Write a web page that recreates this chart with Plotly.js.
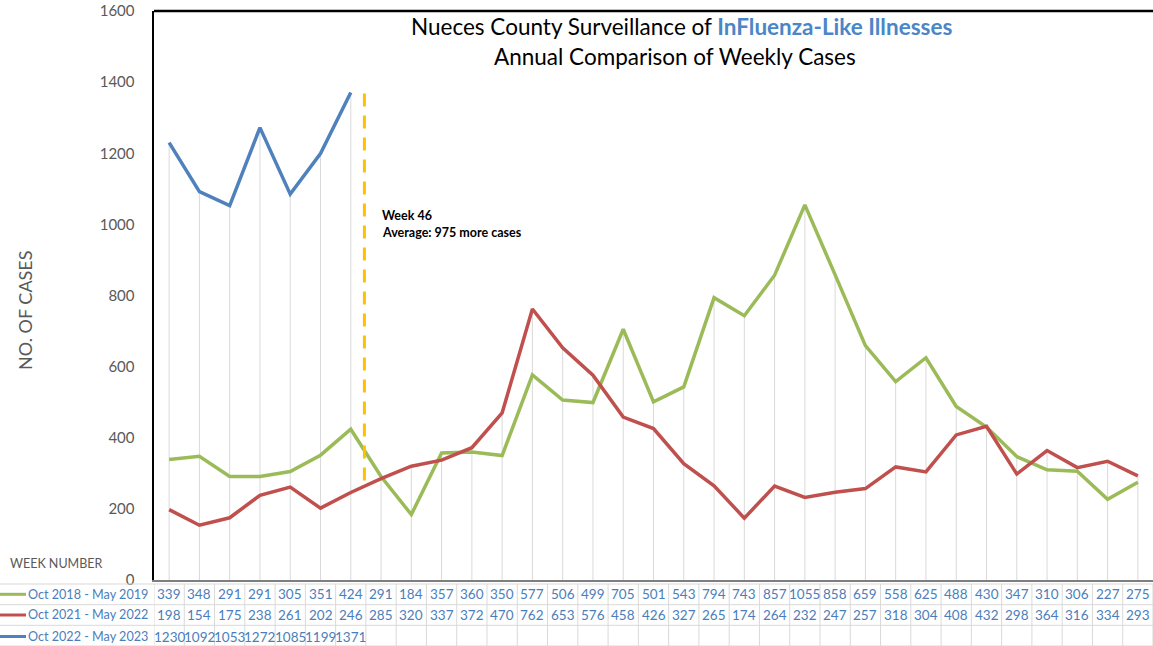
<!DOCTYPE html>
<html><head><meta charset="utf-8">
<script src="https://cdn.plot.ly/plotly-3.0.1.min.js"></script>
<style>html,body{margin:0;padding:0;background:#fff}#chart{width:1153px;height:646px}</style>
</head><body><div id="chart"></div>
<script>
// ---- data ----
const seriesNames = ["Oct 2018 - May 2019", "Oct 2021 - May 2022", "Oct 2022 - May 2023"];
const season2018 = [339,348,291,291,305,351,424,291,184,357,360,350,577,506,499,705,501,543,794,743,857,1055,858,659,558,625,488,430,347,310,306,227,275];
const season2021 = [198,154,175,238,261,202,246,285,320,337,372,470,762,653,576,458,426,327,265,174,264,232,247,257,318,304,408,432,298,364,316,334,293];
const season2022 = [1230,1092,1053,1272,1085,1199,1371];
const yTickVals = [0,200,400,600,800,1000,1200,1400,1600];
const titleLine1 = "Nueces County Surveillance of ";
const titleHighlight = "InFluenza-Like Illnesses";
const titleLine2 = "Annual Comparison of Weekly Cases";
const noteLines = ["Week 46", "Average: 975 more cases"];
const yAxisTitle = "NO. OF CASES";
const tableHeader = "WEEK NUMBER";

// ---- styles ----
const colors = ["#9BBB59", "#C0504D", "#4F81BD"];
const tableText = "#4a7ebb";
const gray = "#595959";
const font = "Lato, 'Open Sans', sans-serif";

const W = 1153, H = 646, L = 154, R = 0, T = 11, B = 66;
const plotW = W - L - R, plotH = H - T - B;
const px = v => (v - L) / plotW;          // pixel x -> paper
const py = v => (H - B - v) / plotH;      // pixel y -> paper

const allSeries = [season2018, season2021, season2022];
const nWeeks = season2018.length;
const idx = season2018.map((_, i) => i);

// drop lines from 0 to the highest value at each week
const dropX = [], dropY = [];
idx.forEach(i => {
  const m = Math.max(...allSeries.filter(s => s[i] != null).map(s => s[i]));
  dropX.push(i, i, null); dropY.push(0, m, null);
});

const traces = [{
  x: dropX, y: dropY, mode: "lines", line: {color: "#d9d9d9", width: 1},
  hoverinfo: "skip", showlegend: false
}];
allSeries.forEach((s, k) => traces.push({
  x: s.map((_, i) => i), y: s, mode: "lines", name: seriesNames[k],
  line: {color: colors[k], width: 3.5}, showlegend: false
}));

const shapes = [];
const annotations = [];

// frame top line
shapes.push({type: "line", xref: "paper", yref: "paper", x0: 0, x1: 1, y0: 1, y1: 1,
  line: {color: "#000", width: 2.5}});
// week 46 dashed marker
const markerX = 6.45, markerY0 = 280, markerY1 = 1370;
shapes.push({type: "line", xref: "x", yref: "y", x0: markerX, x1: markerX, y0: markerY0, y1: markerY1,
  line: {color: "#FFC000", width: 3, dash: "13px,9px"}});

// table
const rowBorders = [584, 604.7, 625.3, 646];
const rowCenters = [594.3, 615, 636.5];
rowBorders.forEach(b => shapes.push({type: "line", xref: "paper", yref: "paper",
  x0: px(0), x1: px(W), y0: py(b), y1: py(b), line: {color: "#d9d9d9", width: 1}}));
for (let i = 0; i <= nWeeks; i++) {
  shapes.push({type: "line", xref: "x", yref: "paper", x0: i - 0.5, x1: i - 0.5,
    y0: py(rowBorders[0]), y1: py(rowBorders[3]), line: {color: "#d9d9d9", width: 1}});
}
allSeries.forEach((s, k) => {
  shapes.push({type: "line", xref: "paper", yref: "paper", x0: px(0), x1: px(26),
    y0: py(rowCenters[k]), y1: py(rowCenters[k]), line: {color: colors[k], width: 3}});
  annotations.push({xref: "paper", yref: "paper", x: px(26), y: py(rowCenters[k]),
    xanchor: "left", yanchor: "middle", showarrow: false, text: seriesNames[k],
    font: {family: font, size: 12.6, color: tableText}});
  s.forEach((v, i) => annotations.push({xref: "x", yref: "paper", x: i, y: py(rowCenters[k]),
    xanchor: "center", yanchor: "middle", showarrow: false, text: String(v),
    font: {family: font, size: 13.5, color: tableText}}));
});

// titles and labels
annotations.push({xref: "paper", yref: "paper", x: px(681), y: py(26), xanchor: "center", yanchor: "middle",
  showarrow: false, text: titleLine1 + "<b><span style='color:#4a86c8'>" + titleHighlight + "</span></b>",
  font: {family: font, size: 22.5, color: "#000"}});
annotations.push({xref: "paper", yref: "paper", x: px(675), y: py(57), xanchor: "center", yanchor: "middle",
  showarrow: false, text: titleLine2, font: {family: font, size: 22.5, color: "#000"}});
annotations.push({xref: "paper", yref: "paper", x: px(25), y: py(310), textangle: -90,
  xanchor: "center", yanchor: "middle", showarrow: false, text: yAxisTitle,
  font: {family: font, size: 18, color: gray}});
annotations.push({xref: "paper", yref: "paper", x: px(8), y: py(563), xanchor: "left", yanchor: "middle",
  showarrow: false, text: tableHeader, font: {family: font, size: 12.5, color: gray}});
const noteY = [1026, 978];
noteLines.forEach((t, j) => annotations.push({xref: "x", yref: "y", x: 6.98, y: noteY[j],
  xanchor: "left", yanchor: "middle", showarrow: false, text: "<b>" + t + "</b>",
  font: {family: font, size: 12.5, color: "#000"}}));

const layout = {
  width: W, height: H, margin: {l: L, r: R, t: T, b: B, pad: 0},
  paper_bgcolor: "#fff", plot_bgcolor: "#fff", showlegend: false,
  xaxis: {range: [-0.5, nWeeks - 0.5], showticklabels: false, showgrid: false, zeroline: false,
    showline: true, linecolor: "#7f7f7f", linewidth: 2, ticks: "", fixedrange: true},
  yaxis: {range: [0, 1600], tickvals: yTickVals, showgrid: false, zeroline: false,
    showline: true, linecolor: "#000", linewidth: 2.5, ticks: "", ticklabelstandoff: 14,
    tickfont: {family: font, size: 15, color: gray}, fixedrange: true},
  shapes: shapes, annotations: annotations
};
Plotly.newPlot("chart", traces, layout, {displayModeBar: false, staticPlot: true});
</script>
</body></html>
